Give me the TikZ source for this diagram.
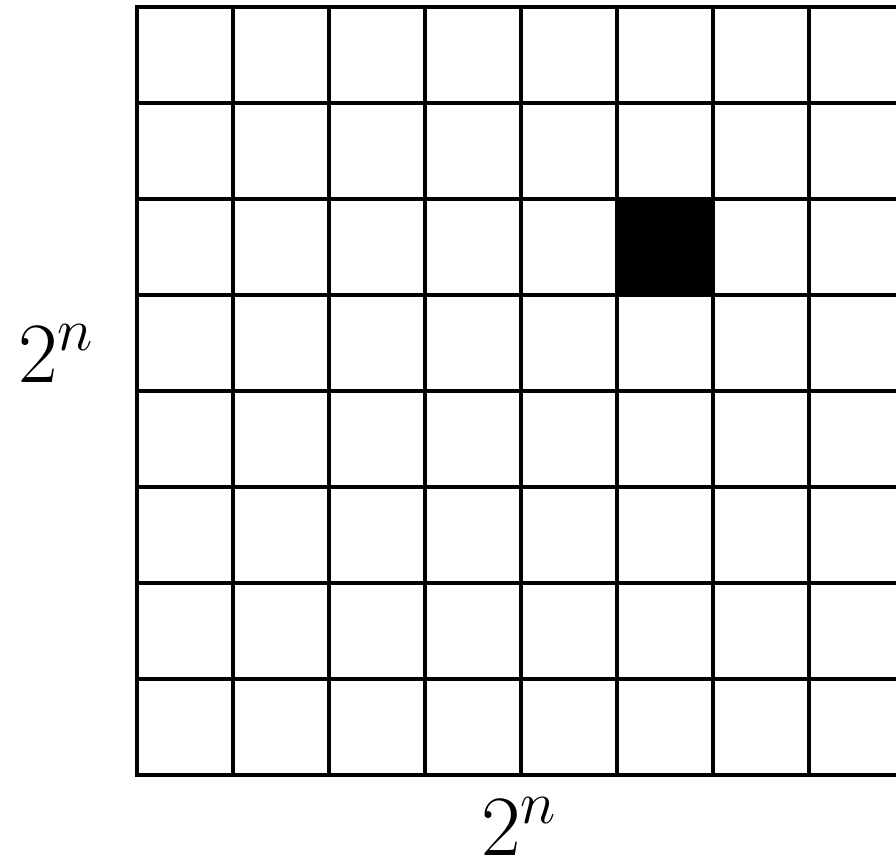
\RequirePackage{fix-cm}
\documentclass[tikz,border=0pt]{standalone}
\tikzset{
  gridline/.style={line width=4.5pt, black, line cap=rect},
  dimlabel/.style={anchor=base, inner sep=0pt, font=\fontsize{86}{94}\selectfont}
}
\begin{document}
\begin{tikzpicture}[x=1pt,y=-1pt]
\useasboundingbox (0,0) rectangle (896,866);
\fill[white] (0,0) rectangle (896,866);
\begin{scope}
\clip (0,0) rectangle (896,866);
% marked cell
\fill[black] (617,199) rectangle (713,295);
% grid
\foreach \i in {0,...,8} {
  \draw[gridline] (137+96*\i,7) -- (137+96*\i,775);
  \draw[gridline] (137,7+96*\i) -- (905,7+96*\i);
}
\end{scope}
\node[dimlabel] (leftlabel) at (56,382) {$2^n$};
\node[dimlabel] (bottomlabel) at (519,855) {$2^n$};
\end{tikzpicture}
\end{document}
